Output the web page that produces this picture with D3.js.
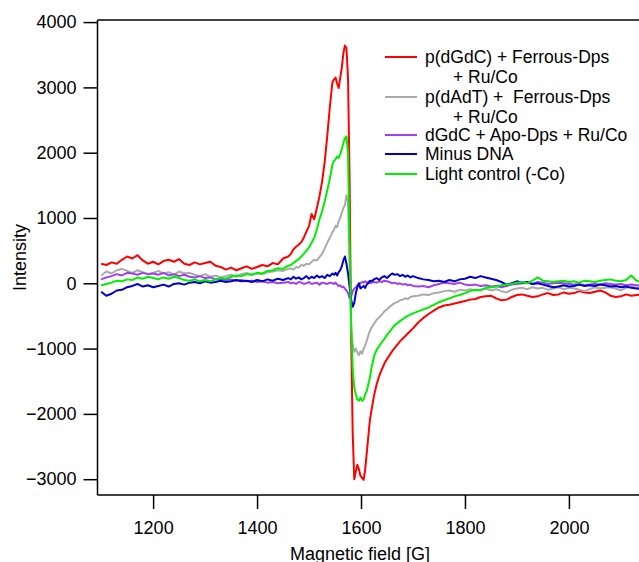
<!DOCTYPE html>
<html>
<head>
<meta charset="utf-8">
<script src="https://cdn.jsdelivr.net/npm/d3@7"></script>
<style>
html,body{margin:0;padding:0;background:#fff;}
svg{display:block;font-family:"Liberation Sans",Arial,sans-serif;}
</style>
</head>
<body>
<svg id="chart" width="639" height="562"></svg>
<script>
// ---------- data ----------
const field = [
1100,1110,1120,1130,1140,1150,1160,1170,1180,1190,1200,1210,1220,1230,1240,1250,1260,1270,1280,1290,1300,1310,1320,1330,1340,1350,1360,1370,1380,1390,1400,1410,1420,1430,1440,1450,1460,
1465,1470,1475,1480,1485,1490,1495,1500,1505,1510,1515,1520,1525,1530,1535,1540,1545,
1548,1551,1554,1557,1560,1563,1566,1569,1572,1575,1578,1581,1584,1587,1590,1593,1596,1599,1602,1605,1608,1611,1614,1617,1620,
1625,1630,1635,1640,1645,1650,1655,1660,1665,1670,1675,1680,1685,1690,1695,1700,
1710,1720,1730,1740,1750,1760,1770,1780,1790,1800,1810,1820,1830,1840,1850,1860,1870,1880,1890,1900,1910,1920,1930,1940,1950,1960,1970,1980,1990,2000,2010,2020,2030,2040,2050,2060,2070,2080,2090,2100,2110,2120,2130,2140
];

const pdGdC = [
300,280,320,300,360,410,380,430,350,300,330,290,340,360,330,370,300,280,320,290,310,330,270,250,210,240,200,230,260,220,250,280,260,310,290,380,410,
450,520,560,590,630,700,790,880,1060,980,1150,1330,1550,1850,2250,2700,3080,
3120,3150,3060,2990,3150,3300,3520,3640,3600,3150,1600,-800,-2300,-3000,-2880,-2780,-2850,-2950,-2980,-3010,-2850,-2600,-2350,-2100,-1950,
-1720,-1550,-1420,-1320,-1230,-1160,-1100,-1040,-990,-940,-890,-850,-810,-770,-730,-690,
-600,-530,-470,-420,-370,-340,-330,-310,-290,-270,-250,-240,-210,-200,-190,-230,-260,-250,-210,-180,-170,-190,-210,-200,-170,-150,-180,-170,-140,-160,-150,-120,-140,-150,-130,-110,-140,-190,-210,-200,-170,-190,-180,-170
];

const pdAdT = [
120,180,150,200,220,190,160,200,170,140,160,190,150,170,130,180,150,160,130,110,140,100,120,90,110,130,100,140,160,130,150,140,170,180,200,190,220,
230,210,250,240,280,270,300,290,330,360,350,400,450,530,620,700,780,
820,880,860,950,1000,1080,1150,1200,1350,1250,300,-700,-950,-1050,-1000,-1060,-1100,-1040,-1080,-1000,-950,-880,-800,-730,-680,
-620,-560,-520,-480,-430,-400,-360,-330,-300,-290,-260,-250,-230,-240,-210,-200,
-190,-170,-180,-150,-140,-120,-110,-130,-100,-110,-90,-110,-100,-80,-110,-90,-120,-140,-100,-80,-70,-90,-60,-80,-70,-100,-80,-60,-90,-70,-80,-100,-120,-90,-60,-80,-70,-60,-80,-110,-70,-50,-70,-60
];

const dGdCApo = [
60,90,110,140,120,160,150,130,160,140,150,130,160,120,140,110,130,100,90,110,80,90,60,70,50,60,40,50,30,40,20,30,10,20,0,10,20,
0,10,-10,20,10,-10,0,20,-10,0,10,-20,10,0,-10,10,0,
-10,10,-20,-40,-30,-60,-50,-80,-110,-150,-230,-200,-120,-80,-60,-30,-10,0,20,10,30,10,20,0,10,
20,10,30,20,40,30,20,0,10,-10,0,-20,-10,-30,-20,-40,
-50,-40,-60,-30,-10,10,0,-10,10,-20,-30,-20,-40,-30,-50,-40,-60,-40,-20,-10,0,10,-10,20,10,-10,0,10,0,-10,-20,-10,-30,-20,-10,-20,0,-10,-20,-10,-30,-20,-30,-40
];

const minusDNA = [
-130,-190,-160,-110,-100,-60,-40,-10,-50,-30,-60,-40,-20,-50,-10,0,-20,10,20,0,30,10,20,40,20,30,50,30,40,20,50,30,60,40,70,50,80,
60,100,70,90,60,80,110,70,100,80,120,90,110,80,130,110,150,
130,160,120,170,200,260,350,410,300,150,-50,-250,-360,-300,-150,-60,0,-80,-60,-40,-70,-20,0,40,30,
60,80,50,90,110,80,120,150,130,140,110,130,100,120,90,110,
80,60,50,30,40,20,50,30,60,70,100,80,110,90,70,50,20,-20,0,30,10,20,-10,0,-20,-40,-60,-50,-30,-50,-40,-20,-40,-30,-40,-20,-30,-50,-40,-60,-50,-70,-80,-90
];

const lightControl = [
-30,-10,10,40,30,60,50,90,70,100,80,60,90,70,100,80,50,40,60,30,50,30,60,80,70,100,120,110,140,130,160,150,190,200,230,220,270,
280,310,340,370,410,450,500,550,620,700,820,980,1100,1250,1420,1600,1820,
1870,1900,1940,1920,1980,2050,2150,2220,2250,2000,600,-600,-1300,-1600,-1700,-1780,-1800,-1750,-1800,-1780,-1700,-1650,-1550,-1450,-1300,
-1120,-1020,-960,-900,-850,-790,-740,-690,-640,-610,-580,-550,-520,-500,-480,-460,
-430,-400,-370,-330,-290,-260,-230,-200,-180,-150,-120,-100,-110,-70,-60,-50,-30,-20,-10,10,20,0,40,90,40,30,20,30,40,20,30,10,40,30,20,40,50,60,40,30,50,120,40,20
];

const seriesNames = ["p(dGdC) + Ferrous-Dps", "p(dAdT) +  Ferrous-Dps", "dGdC + Apo-Dps + Ru/Co", "Minus DNA", "Light control (-Co)"];
const seriesSub = ["+ Ru/Co", "+ Ru/Co", null, null, null];
const seriesColors = ["#ff0000", "#aaaaaa", "#a040f0", "#0000cc", "#00ee00"];
const seriesValues = [pdGdC, pdAdT, dGdCApo, minusDNA, lightControl];

const xTicks = [1200, 1400, 1600, 1800, 2000];
const yTicks = [-3000, -2000, -1000, 0, 1000, 2000, 3000, 4000];
const xTitle = "Magnetic field [G]";
const yTitle = "Intensity";

// ---------- layout ----------
const W = 639, H = 562;
const mLeft = 97.5, mTop = 20, mRight = 650, mBottom = 495;
const svg = d3.select("#chart");
svg.append("rect").attr("width", W).attr("height", H).attr("fill", "#fff");

const x = d3.scaleLinear().domain([1093, 2156]).range([mLeft, mRight]);
const y = d3.scaleLinear().domain([-3242, 4032]).range([mBottom, mTop]);

svg.append("defs").append("clipPath").attr("id", "clip")
  .append("rect").attr("x", mLeft).attr("y", mTop).attr("width", mRight - mLeft).attr("height", mBottom - mTop);

const line = d3.line().x((d, i) => x(field[i])).y(d => y(d));
const plot = svg.append("g").attr("clip-path", "url(#clip)");
seriesValues.forEach((vals, k) => {
  plot.append("path").datum(vals)
    .attr("d", line)
    .attr("fill", "none")
    .attr("stroke", seriesColors[k])
    .attr("stroke-width", 2)
    .attr("stroke-linejoin", "round");
});

// frame top
svg.append("line").attr("x1", mLeft).attr("x2", mRight).attr("y1", mTop).attr("y2", mTop)
  .attr("stroke", "#000").attr("stroke-width", 1.5);

// axes
const xAxis = d3.axisBottom(x).tickValues(xTicks).tickSize(14).tickPadding(12).tickFormat(d3.format("d"));
const gx = svg.append("g").attr("transform", `translate(0,${mBottom})`).call(xAxis);
const yAxis = d3.axisLeft(y).tickValues(yTicks).tickSize(14).tickPadding(7).tickFormat(d3.format("d"));
const gy = svg.append("g").attr("transform", `translate(${mLeft},0)`).call(yAxis);
[gx, gy].forEach(g => {
  g.select(".domain").attr("stroke", "#000").attr("stroke-width", 1.5);
  g.selectAll(".tick line").attr("stroke", "#000").attr("stroke-width", 1.5);
  g.selectAll(".tick text").attr("fill", "#000").style("font-size", "18px")
    .style("font-family", '"Liberation Sans",Arial,sans-serif');
});
gx.select(".domain").attr("d", `M${mLeft},0H${mRight}`);
gy.select(".domain").attr("d", `M0,${mTop}V${mBottom}`);

// titles
svg.append("text").attr("x", 360).attr("y", 560).attr("text-anchor", "middle")
  .style("font-size", "18px").attr("fill", "#000").text(xTitle);
svg.append("text").attr("transform", `translate(26,${(mTop + mBottom) / 2}) rotate(-90)`)
  .attr("text-anchor", "middle").style("font-size", "18px").attr("fill", "#000").text(yTitle);

// legend
const legend = svg.append("g");
const rowY = [57, 97, 135, 154, 174];
seriesNames.forEach((name, k) => {
  legend.append("line").attr("x1", 385).attr("x2", 417).attr("y1", rowY[k]).attr("y2", rowY[k])
    .attr("stroke", seriesColors[k]).attr("stroke-width", 2);
  legend.append("text").attr("x", 425).attr("y", rowY[k]).attr("dy", "0.36em")
    .style("font-size", "17.5px").attr("fill", "#000").style("white-space", "pre")
    .text(name);
  if (seriesSub[k]) {
    legend.append("text").attr("x", 453).attr("y", rowY[k] + 19.5).attr("dy", "0.36em")
      .style("font-size", "17.5px").attr("fill", "#000").text(seriesSub[k]);
  }
});
</script>
</body>
</html>
